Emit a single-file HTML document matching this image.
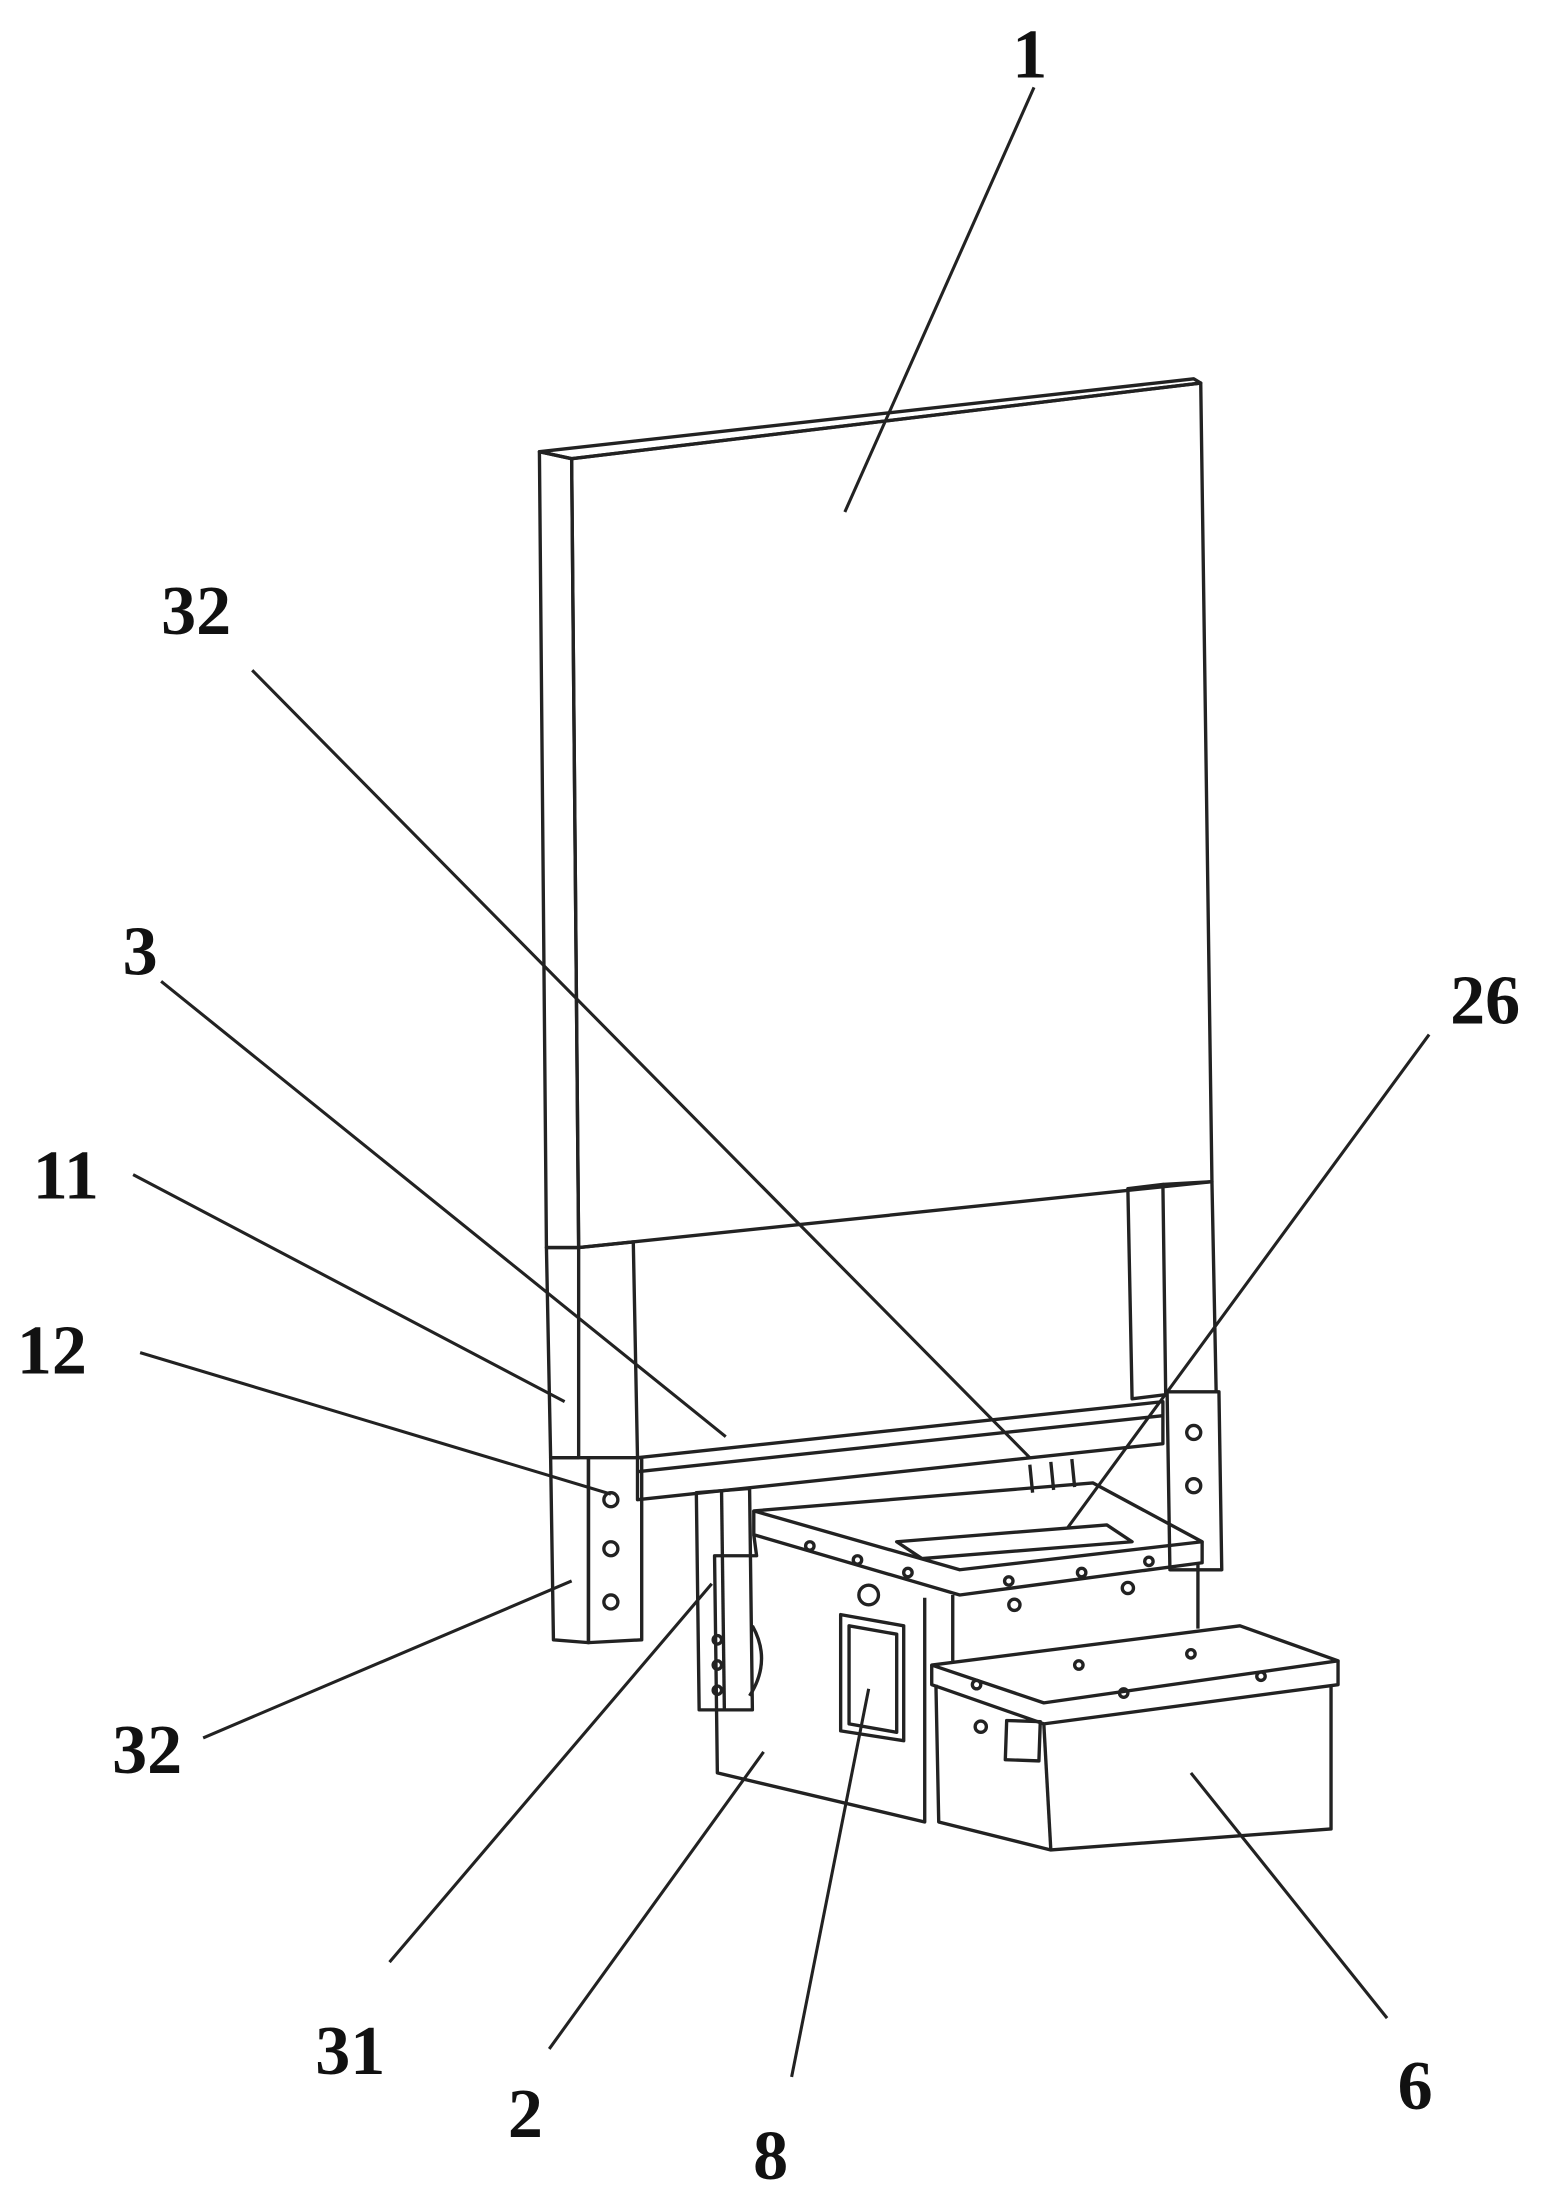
<!DOCTYPE html>
<html><head><meta charset="utf-8"><style>
html,body{margin:0;padding:0;background:#fff}
svg{display:block}
text{font-family:"Liberation Serif",serif;font-size:50px;font-weight:bold;fill:#111}
</style></head><body>
<svg width="1544" height="2198" viewBox="0 0 1102 1568" xmlns="http://www.w3.org/2000/svg">
<g fill="none" stroke="#222" stroke-width="2.4" stroke-linejoin="round">
<polygon points="385,322 852,270 857,273 408,327" />
<polygon points="408,327 857,273 865,843 413,890" />
<polygon points="385,322 408,327 413,890 390,890" />
<polygon points="390,890 413,890 413,1040 393,1040" />
<polyline points="413,890 452,886 455,1040" />
<polygon points="805,848 830,845 832,995 808,998" />
<polyline points="830,845 865,843 868,993" />
<polygon points="455,1040 830,1000 830,1030 455,1070" />
<line x1="455" y1="1050" x2="830" y2="1010"/>
<polygon points="393,1040 420,1040 420,1172 395,1170" />
<polygon points="420,1040 458,1040 458,1170 420,1172" />
<circle cx="436" cy="1070" r="5"/><circle cx="436" cy="1105" r="5"/><circle cx="436" cy="1143" r="5"/>
<polygon points="833,993 870,993 872,1120 835,1120" />
<circle cx="852" cy="1022" r="5"/><circle cx="852" cy="1060" r="5"/>
<polygon points="497,1065 535,1062 537,1220 499,1220" />
<line x1="515" y1="1064" x2="517" y2="1220"/>
<circle cx="512" cy="1170" r="3"/><circle cx="512" cy="1188" r="3"/><circle cx="512" cy="1206" r="3"/>
<line x1="735" y1="1045" x2="737" y2="1065"/><line x1="750" y1="1043" x2="752" y2="1063"/><line x1="765" y1="1041" x2="767" y2="1061"/>
<polygon points="538,1078 780,1058 858,1100 685,1120" />
<polyline points="538,1078 538,1095 685,1138 858,1115 858,1100"/>
<polygon points="640,1100 790,1088 808,1100 658,1112" />
<polyline points="538,1095 540,1110 510,1110 512,1265 660,1300 660,1140"/>
<line x1="680" y1="1138" x2="680" y2="1185"/>
<line x1="855" y1="1115" x2="855" y2="1162"/>
<polygon points="600,1152 645,1160 645,1242 600,1235" />
<polygon points="606,1160 640,1166 640,1236 606,1230" />
<circle cx="620" cy="1138" r="7"/>
<circle cx="578" cy="1103" r="3"/><circle cx="612" cy="1113" r="3"/><circle cx="648" cy="1122" r="3"/>
<circle cx="720" cy="1128" r="3"/><circle cx="772" cy="1122" r="3"/><circle cx="820" cy="1114" r="3"/>
<circle cx="724" cy="1145" r="4"/><circle cx="805" cy="1133" r="4"/>
<path d="M537,1160 q14,25 -2,50"/>
<polygon points="665,1188 885,1160 955,1185 745,1215" />
<polyline points="665,1188 665,1202 745,1230 955,1202 955,1185"/>
<polyline points="668,1202 670,1300 750,1320 950,1305 950,1202"/>
<line x1="745" y1="1230" x2="750" y2="1320"/>
<rect x="718" y="1228" width="24" height="28" transform="rotate(2 730 1242)"/>
<circle cx="697" cy="1202" r="3"/><circle cx="802" cy="1208" r="3"/><circle cx="900" cy="1196" r="3"/>
<circle cx="770" cy="1188" r="3"/><circle cx="850" cy="1180" r="3"/>
<circle cx="700" cy="1232" r="4"/>
</g>
<g stroke="#222" stroke-width="2.2">
<line x1="738" y1="62" x2="603" y2="365"/>
<line x1="180" y1="478" x2="735" y2="1040"/>
<line x1="115" y1="700" x2="518" y2="1025"/>
<line x1="1020" y1="738" x2="762" y2="1090"/>
<line x1="95" y1="838" x2="403" y2="1000"/>
<line x1="100" y1="965" x2="436" y2="1066"/>
<line x1="145" y1="1240" x2="408" y2="1128"/>
<line x1="278" y1="1400" x2="508" y2="1130"/>
<line x1="392" y1="1462" x2="545" y2="1250"/>
<line x1="565" y1="1482" x2="620" y2="1205"/>
<line x1="990" y1="1440" x2="850" y2="1265"/>
</g>
<g>
<text x="735" y="55" text-anchor="middle">1</text>
<text x="140" y="452" text-anchor="middle">32</text>
<text x="100" y="695" text-anchor="middle">3</text>
<text x="1060" y="730" text-anchor="middle">26</text>
<text x="47" y="855" text-anchor="middle">11</text>
<text x="37" y="980" text-anchor="middle">12</text>
<text x="105" y="1265" text-anchor="middle">32</text>
<text x="250" y="1480" text-anchor="middle">31</text>
<text x="375" y="1525" text-anchor="middle">2</text>
<text x="550" y="1555" text-anchor="middle">8</text>
<text x="1010" y="1505" text-anchor="middle">6</text>
</g>
</svg>
</body></html>
